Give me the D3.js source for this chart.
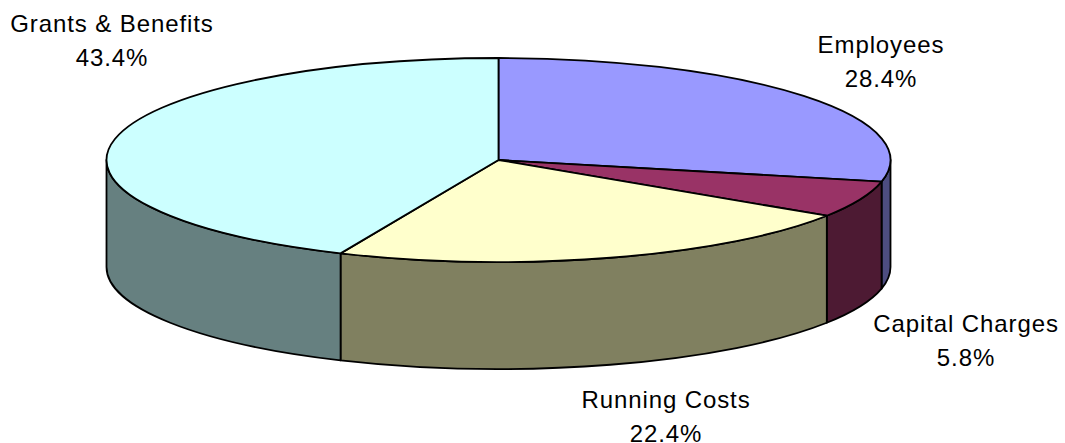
<!DOCTYPE html>
<html>
<head>
<meta charset="utf-8">
<script src="https://cdn.jsdelivr.net/npm/d3@7"></script>
<style>
  body { margin: 0; background: #fff; }
  text { font-family: "Liberation Sans", Arial, sans-serif; font-size: 24px; letter-spacing: 0.9px; fill: #000; }
</style>
</head>
<body>
<script>
(function(){

  //slice data, in drawing order (clockwise from 12 o'clock)
  var categories = ["Employees", "Capital Charges", "Running Costs", "Grants & Benefits"];
  var values = [28.4, 5.8, 22.4, 43.4];
  var labels = ["28.4%", "5.8%", "22.4%", "43.4%"];
  var topColors = ["#9999ff", "#993366", "#ffffcc", "#ccffff"];
  var sideColors = ["#4d4d80", "#4d1a33", "#808060", "#668080"];

  //label positions (centre x, first baseline)
  var labelPos = [[881, 53], [966, 332], [666, 408], [112, 32]];

  var width = 1065, height = 443;
  var cx = 498.5, cy = 160, rx = 392, ry = 102, depth = 107;

  var svg = d3.select("body")
    .append("svg")
    .attr("width", width)
    .attr("height", height);

  var pie = d3.pie().sort(null).value(function(d){ return d; });
  var arcs = pie(values);

  //point on the ellipse, angle measured clockwise from the top
  function pt(a, dy){
    return [cx + rx * Math.sin(a), cy - ry * Math.cos(a) + (dy || 0)];
  }

  function topPath(d){
    var p0 = pt(d.startAngle), p1 = pt(d.endAngle);
    var large = (d.endAngle - d.startAngle) > Math.PI ? 1 : 0;
    return "M" + cx + "," + cy + "L" + p0 + "A" + rx + "," + ry + " 0 " + large + " 1 " + p1 + "Z";
  }

  function sidePath(d){
    var s0 = Math.max(d.startAngle, Math.PI / 2),
        s1 = Math.min(d.endAngle, 3 * Math.PI / 2);
    if (s1 <= s0) return null;
    var a = pt(s0), b = pt(s1), c = pt(s1, depth), e = pt(s0, depth);
    return "M" + a + "A" + rx + "," + ry + " 0 0 1 " + b +
           "L" + c + "A" + rx + "," + ry + " 0 0 0 " + e + "Z";
  }

  //side walls first
  svg.selectAll(".side")
    .data(arcs.filter(function(d){ return sidePath(d) != null; }))
    .enter()
    .append("path")
    .attr("class", "side")
    .attr("d", sidePath)
    .attr("fill", function(d){ return sideColors[d.index]; })
    .attr("stroke", "#000")
    .attr("stroke-width", 1.8)
    .attr("stroke-linejoin", "round");

  //top faces
  svg.selectAll(".top")
    .data(arcs)
    .enter()
    .append("path")
    .attr("class", "top")
    .attr("d", topPath)
    .attr("fill", function(d){ return topColors[d.index]; })
    .attr("stroke", "#000")
    .attr("stroke-width", 1.8)
    .attr("stroke-linejoin", "round");

  //labels
  var lab = svg.selectAll(".label")
    .data(arcs)
    .enter()
    .append("text")
    .attr("class", "label")
    .attr("text-anchor", "middle");

  lab.append("tspan")
    .attr("x", function(d){ return labelPos[d.index][0]; })
    .attr("y", function(d){ return labelPos[d.index][1]; })
    .text(function(d){ return categories[d.index]; });

  lab.append("tspan")
    .attr("x", function(d){ return labelPos[d.index][0]; })
    .attr("y", function(d){ return labelPos[d.index][1] + 34; })
    .text(function(d){ return labels[d.index]; });

})();
</script>
</body>
</html>
